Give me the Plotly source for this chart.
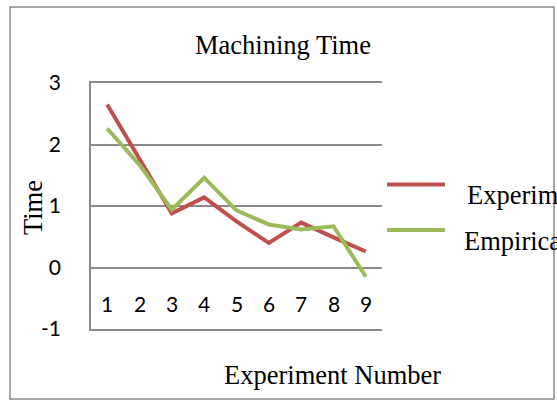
import plotly.graph_objects as go

experiments = [1, 2, 3, 4, 5, 6, 7, 8, 9]
experimental = [2.65, 1.78, 0.88, 1.14, 0.75, 0.40, 0.73, 0.49, 0.26]
empirical = [2.26, 1.67, 0.94, 1.46, 0.93, 0.70, 0.62, 0.67, -0.15]
series_names = ["Experimental", "Empirical"]
series_colors = ["#C0504D", "#9BBB59"]
y_ticks = [-1, 0, 1, 2, 3]
y_tick_text = ["-1", "0", "1", "2", "3"]

W, H = 557, 401
L, R, T, B = 91, 382, 83, 329
pw, ph = R - L, B - T

def px(x):
    return (x - L) / pw

def py(y):
    return (B - y) / ph

serif = "Liberation Serif, Times New Roman, serif"
sans = "Lato, Calibri, Carlito, sans-serif"
SF = 26.5

fig = go.Figure()
for name, vals, col in zip(series_names, [experimental, empirical], series_colors):
    fig.add_trace(go.Scatter(x=experiments, y=vals, mode="lines", name=name,
                             line=dict(color=col, width=4), showlegend=False))

# category labels sitting below the zero line, as in the Excel chart
for c in experiments:
    fig.add_annotation(x=c, y=0, xref="x", yref="y", text=str(c), showarrow=False,
                       yanchor="middle", yshift=-36,
                       font=dict(family=sans, size=21, color="#000"))

# border
fig.add_shape(type="rect", xref="paper", yref="paper",
              x0=px(10), x1=px(554), y0=py(399), y1=py(7),
              line=dict(color="#8a8a8a", width=1.5), layer="below")

# manual legend
for i, (name, col) in enumerate(zip(series_names, series_colors)):
    ly = [184.5, 230][i]
    fig.add_shape(type="line", xref="paper", yref="paper",
                  x0=px(387), x1=px(445), y0=py(ly), y1=py(ly),
                  line=dict(color=col, width=4))
    fig.add_annotation(xref="paper", yref="paper", x=px([465, 462][i]), y=py([195, 241][i]),
                       xanchor="left", yanchor="middle", showarrow=False, text=name,
                       font=dict(family=serif, size=SF, color="#000"))

fig.add_annotation(xref="paper", yref="paper", x=px(283), y=py(45), text="Machining Time",
                   showarrow=False, xanchor="center", yanchor="middle",
                   font=dict(family=serif, size=SF, color="#000"))
fig.add_annotation(xref="paper", yref="paper", x=px(332), y=py(375), text="Experiment Number",
                   showarrow=False, xanchor="center", yanchor="middle",
                   font=dict(family=serif, size=SF, color="#000"))
fig.add_annotation(xref="paper", yref="paper", x=px(33), y=py(207), text="Time",
                   showarrow=False, xanchor="center", yanchor="middle", textangle=-90,
                   font=dict(family=serif, size=SF, color="#000"))

fig.update_layout(
    width=W, height=H,
    margin=dict(l=L, r=W - R, t=T, b=H - B, autoexpand=False),
    paper_bgcolor="white", plot_bgcolor="white",
    xaxis=dict(range=[0.5, 9.5], showticklabels=False, showgrid=False, zeroline=False,
               showline=True, mirror=True, linecolor="#8a8a8a", linewidth=1.5, ticks=""),
    yaxis=dict(range=[-1, 3], tickvals=y_ticks, ticktext=y_tick_text, showgrid=True,
               gridcolor="#8a8a8a", gridwidth=1.5, zeroline=False, showline=True,
               linecolor="#8a8a8a", linewidth=1.5, ticks="", ticklabelstandoff=24,
               tickfont=dict(family=sans, size=21, color="#000")),
    showlegend=False,
)

fig.write_html("out.html")
